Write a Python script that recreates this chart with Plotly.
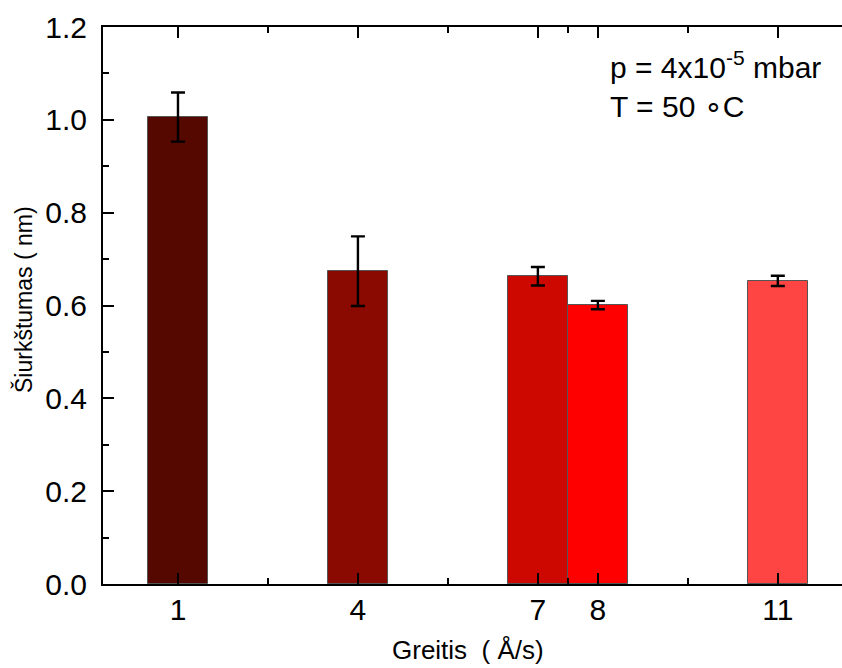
import plotly.graph_objects as go

# Deposition rate (Å/s) and measured roughness (nm)
rates = [1, 4, 7, 8, 11]
roughness = [1.006, 0.674, 0.663, 0.601, 0.653]
roughness_err = [0.053, 0.075, 0.020, 0.009, 0.011]
bar_colors = ["#540800", "#8a0900", "#cc0800", "#ff0000", "#ff4444"]

x_tick_vals = [1, 4, 7, 8, 11]
x_tick_text = ["1", "4", "7", "8", "11"]
x_minor_vals = [2.5, 5.5, 7.5, 9.5]

FONT = "Liberation Sans, Arial, sans-serif"

fig = go.Figure()
fig.add_trace(go.Bar(
    x=rates,
    y=roughness,
    width=1.0,
    marker=dict(color=bar_colors, line=dict(color="#555555", width=1)),
    error_y=dict(type="data", array=roughness_err, visible=True,
                 color="black", thickness=2.4, width=7),
    showlegend=False,
))

fig.update_layout(
    width=842, height=668,
    margin=dict(l=103, r=0, t=27, b=84),
    plot_bgcolor="white", paper_bgcolor="white",
    font=dict(family=FONT, color="black"),
    bargap=0,
    xaxis=dict(
        range=[-0.25, 12.07],
        tickmode="array", tickvals=x_tick_vals, ticktext=x_tick_text,
        ticks="inside", ticklen=11, tickwidth=2, tickcolor="black",
        minor=dict(tickmode="array", tickvals=x_minor_vals, ticks="inside",
                   ticklen=6, tickwidth=2, tickcolor="black"),
        showline=True, linecolor="black", linewidth=2, mirror="ticks",
        showgrid=False, zeroline=False,
        tickfont=dict(size=30, family=FONT),
        ticklabelstandoff=-2,
    ),
    yaxis=dict(
        range=[0, 1.2],
        tickmode="linear", tick0=0, dtick=0.2, tickformat=".1f",
        ticks="inside", ticklen=11, tickwidth=2, tickcolor="black",
        minor=dict(dtick=0.1, ticks="inside", ticklen=6, tickwidth=2, tickcolor="black"),
        showline=True, linecolor="black", linewidth=2, mirror=False,
        showgrid=False, zeroline=False,
        tickfont=dict(size=30, family=FONT),
        ticklabelstandoff=8,
    ),
    annotations=[
        dict(text="p = 4x10<sup>-5</sup> mbar", xref="paper", yref="paper",
             x=0.683, y=0.932, xanchor="left", yanchor="middle", showarrow=False,
             font=dict(size=30, family=FONT)),
        dict(text="T = 50 ∘C", xref="paper", yref="paper",
             x=0.683, y=0.858, xanchor="left", yanchor="middle", showarrow=False,
             font=dict(size=30, family=FONT)),
        # axis titles
        dict(text="Greitis  ( Å/s)", xref="paper", yref="paper",
             x=(468 - 103) / 739, y=-(651 - 584.5) / 558, xanchor="center", yanchor="middle",
             showarrow=False, font=dict(size=26, family=FONT)),
        dict(text="Šiurkštumas ( nm)", xref="paper", yref="paper",
             x=-(103 - 23) / 739, y=(584.5 - 300) / 558, xanchor="center", yanchor="middle",
             textangle=-90, showarrow=False, font=dict(size=23, family=FONT)),
    ],
)

fig.write_html("out.html")
